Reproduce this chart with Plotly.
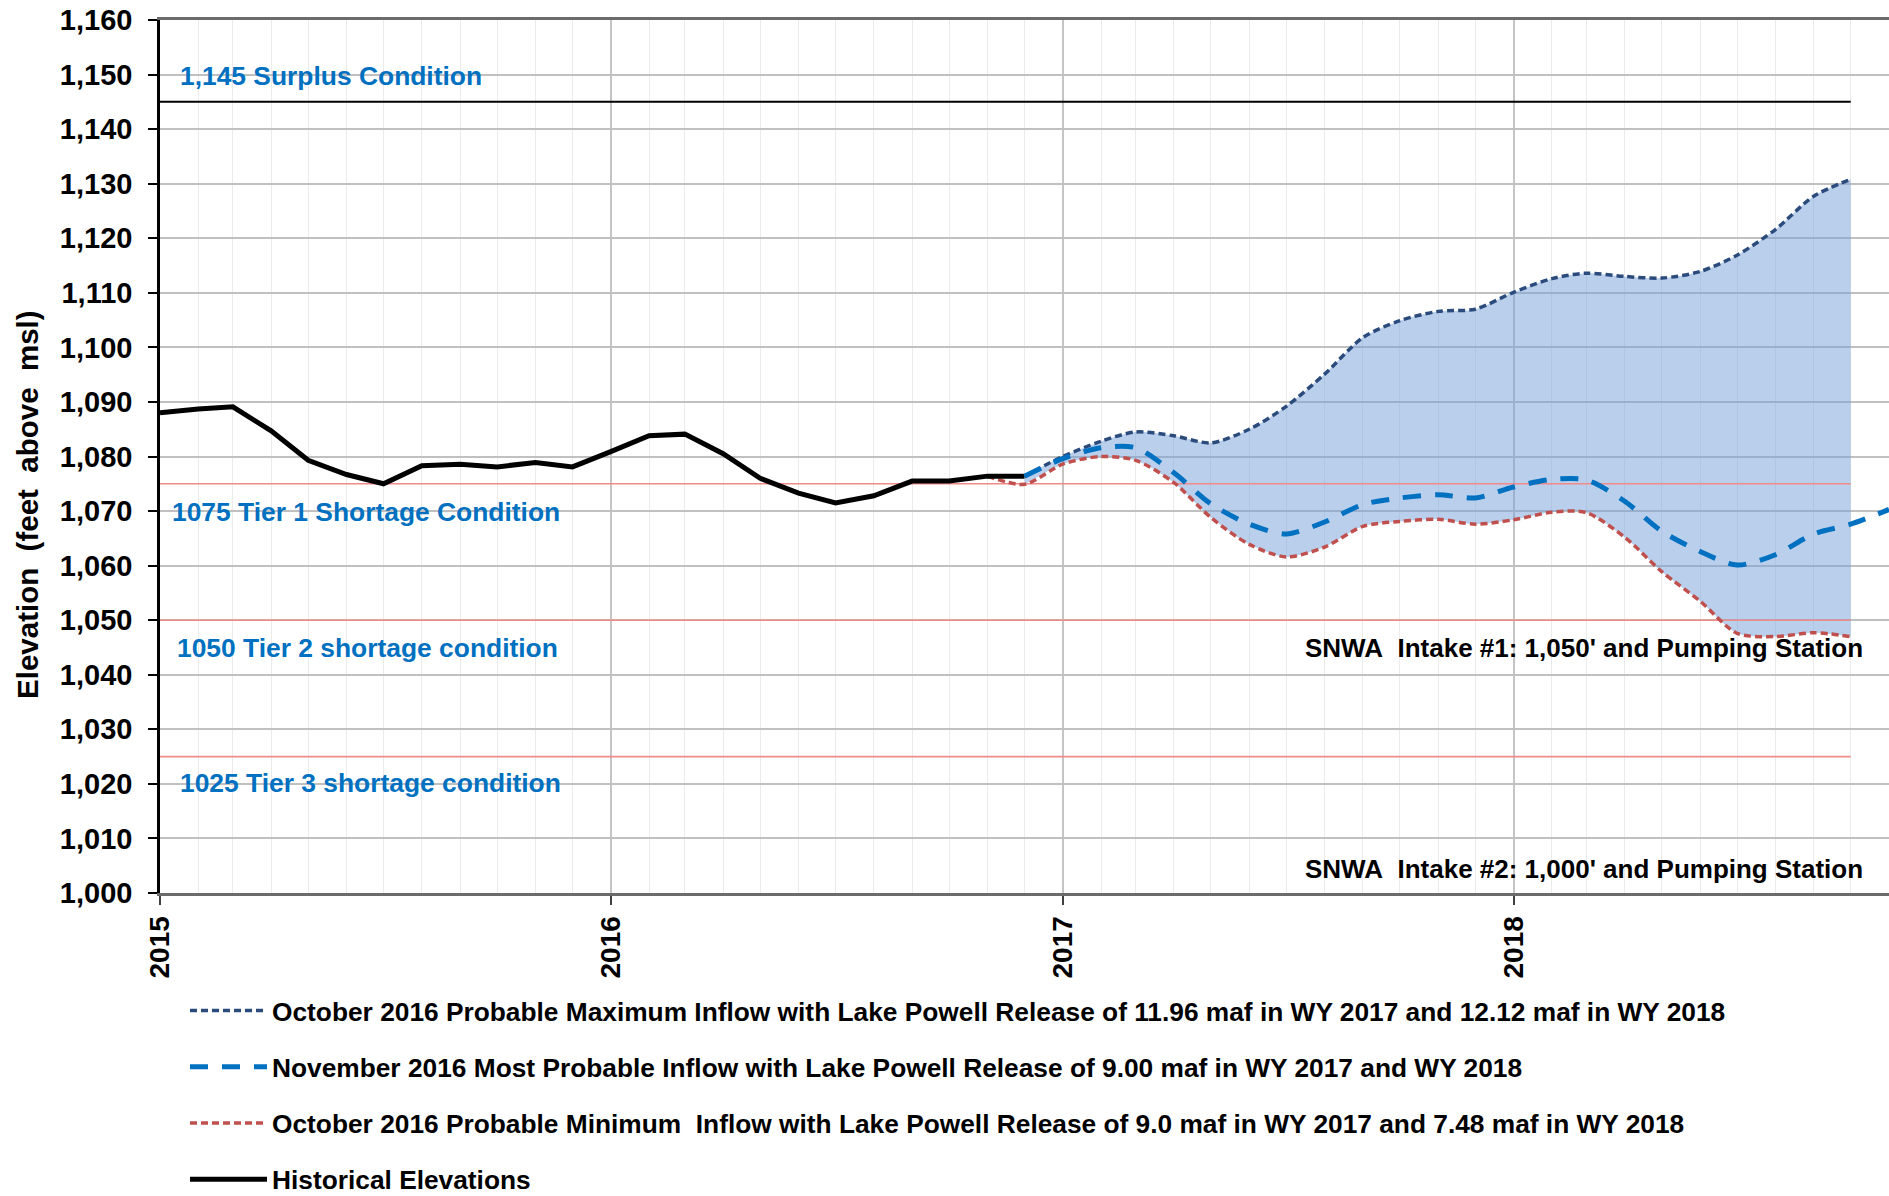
import pandas as pd
import plotly.graph_objects as go

# ---------------- data ----------------
first_month = "2015-01-01"
n_months = 47

historical = [1088.0, 1088.7, 1089.1, 1084.7, 1079.3, 1076.7, 1075.0, 1078.3,
              1078.6, 1078.1, 1078.9, 1078.1, 1080.9, 1083.8, 1084.1, 1080.5,
              1076.0, 1073.3, 1071.5, 1072.8, 1075.5, 1075.5, 1076.4, 1076.4]

max_inflow = [1076.4, 1080.0, 1082.8, 1084.5, 1083.8, 1082.5, 1085.0, 1089.2,
              1095.1, 1101.8, 1104.9, 1106.6, 1107.0, 1110.1, 1112.6, 1113.6,
              1113.0, 1112.7, 1113.9, 1116.9, 1121.6, 1127.7, 1130.8]

most_probable = [1076.4, 1079.6, 1081.6, 1081.6, 1077.0, 1071.3, 1067.6, 1065.8,
                 1068.0, 1071.2, 1072.4, 1073.0, 1072.4, 1074.4, 1075.8, 1075.7,
                 1071.8, 1066.3, 1062.6, 1060.1, 1062.0, 1065.8, 1067.6, 1070.3]

min_inflow = [1076.4, 1074.9, 1078.6, 1080.0, 1079.3, 1075.2, 1068.8, 1063.9,
              1061.6, 1063.4, 1067.2, 1068.1, 1068.5, 1067.6, 1068.4, 1069.8,
              1069.7, 1065.2, 1058.9, 1053.5, 1047.6, 1047.0, 1047.7, 1047.0]

threshold_values = [1145, 1075, 1050, 1025]
threshold_labels = ["1,145 Surplus Condition", "1075 Tier 1 Shortage Condition",
                    "1050 Tier 2 shortage condition", "1025 Tier 3 shortage condition"]
intake_labels = ["SNWA\u00a0 Intake #1: 1,050' and Pumping Station",
                 "SNWA\u00a0 Intake #2: 1,000' and Pumping Station"]
intake_values = [1044.9, 1004.4]

series_names = [
    "October 2016 Probable Maximum Inflow with Lake Powell Release of 11.96 maf in WY 2017 and 12.12 maf in WY 2018",
    "November 2016 Most Probable Inflow with Lake Powell Release of 9.00 maf in WY 2017 and WY 2018",
    "October 2016 Probable Minimum\u00a0 Inflow with Lake Powell Release of 9.0 maf in WY 2017 and 7.48 maf in WY 2018",
    "Historical Elevations",
]

y_ticks = list(range(1000, 1161, 10))
x_range = ["2015-01-01", "2018-11-01"]

# ---------------- derived x ----------------
months = pd.date_range(first_month, periods=n_months, freq="MS")
hist_x = months[0:len(historical)]
max_x = months[23:23 + len(max_inflow)]
mp_x = months[23:23 + len(most_probable)]
min_x = months[22:22 + len(min_inflow)]
ref_x = [months[0], months[45]]

FONT = "Liberation Sans, Arial, sans-serif"
C_MAX = "#2a4b7c"
C_MP = "#0070c0"
C_MIN = "#c0504d"
C_RED = "#f28a8a"

fig = go.Figure()

# shaded range between max and min
fig.add_trace(go.Scatter(x=max_x, y=max_inflow, mode="lines",
                         line=dict(width=0, shape="spline", smoothing=0.8),
                         showlegend=False, hoverinfo="skip"))
fig.add_trace(go.Scatter(x=min_x[1:], y=min_inflow[1:], mode="lines",
                         line=dict(width=0, shape="spline", smoothing=0.8),
                         fill="tonexty", fillcolor="rgba(116,160,218,0.5)",
                         showlegend=False, hoverinfo="skip"))

# threshold lines
for v in threshold_values:
    fig.add_trace(go.Scatter(x=ref_x, y=[v, v], mode="lines",
                             line=dict(color="#000000" if v == threshold_values[0] else C_RED,
                                       width=2 if v == threshold_values[0] else 1.6),
                             showlegend=False, hoverinfo="skip"))

# series
fig.add_trace(go.Scatter(x=max_x, y=max_inflow, mode="lines", name=series_names[0],
                         legendgroup="a", legendrank=1,
                         line=dict(color=C_MAX, width=3.5, dash="7px,4px",
                                   shape="spline", smoothing=0.8)))
fig.add_trace(go.Scatter(x=min_x, y=min_inflow, mode="lines", name=series_names[2],
                         legendgroup="c", legendrank=3,
                         line=dict(color=C_MIN, width=3.5, dash="7px,4px",
                                   shape="spline", smoothing=0.8)))
fig.add_trace(go.Scatter(x=hist_x, y=historical, mode="lines", name=series_names[3],
                         legendgroup="d", legendrank=4,
                         line=dict(color="#000000", width=5)))
fig.add_trace(go.Scatter(x=mp_x, y=most_probable, mode="lines", name=series_names[1],
                         legendgroup="b", legendrank=2,
                         line=dict(color=C_MP, width=5, dash="18px,14px",
                                   shape="spline", smoothing=0.8)))

# annotations
ann = []
label_x = [0.0104, 0.0057, 0.0087, 0.0104]
label_y = [1149.8, 1069.8, 1044.9, 1020.1]
for t, xx, yy in zip(threshold_labels, label_x, label_y):
    ann.append(dict(text="<b>" + t + "</b>", x=xx, xref="paper", y=yy, yref="y",
                    xanchor="left", yanchor="middle", showarrow=False,
                    font=dict(family=FONT, size=26.4, color=C_MP)))
for t, yy in zip(intake_labels, intake_values):
    ann.append(dict(text="<b>" + t + "</b>", x=0.9862, xref="paper", y=yy, yref="y",
                    xanchor="right", yanchor="middle", showarrow=False,
                    font=dict(family=FONT, size=26.0, color="#000000")))
ann.append(dict(text="<b>Elevation\u00a0 (feet\u00a0 above\u00a0 msl)</b>", textangle=-90,
                x=(28 - 160) / 1729, xref="paper", y=(892.7 - 505) / 872.2, yref="paper",
                xanchor="center", yanchor="middle", showarrow=False,
                font=dict(family=FONT, size=29.5, color="#000000")))

fig.update_layout(
    width=1889, height=1196,
    margin=dict(l=160, r=0, t=20, b=303, autoexpand=False),
    paper_bgcolor="white", plot_bgcolor="white",
    font=dict(family=FONT, color="#000000"),
    annotations=ann,
    showlegend=True,
    legend=dict(xref="container", yref="container", x=185 / 1889, y=1 - 987 / 1196,
                xanchor="left", yanchor="top", traceorder="grouped",
                tracegroupgap=19, itemwidth=77,
                font=dict(family=FONT, size=26.3, color="#000000", weight="bold"),
                bgcolor="rgba(0,0,0,0)"),
    xaxis=dict(type="date", range=x_range, dtick="M12", tick0="2015-01-01",
               tickformat="%Y", tickangle=-90, ticks="outside", ticklen=9,
               tickcolor="#404040", tickwidth=1.5, ticklabelstandoff=0,
               tickfont=dict(family=FONT, size=28, color="#000000", weight="bold"),
               showgrid=True, gridcolor="#c4c4c4", gridwidth=1.5,
               minor=dict(dtick="M1", tick0="2015-01-01", showgrid=True,
                          gridcolor="#ebebeb", gridwidth=1, ticks=""),
               showline=True, linecolor="#6b6b6b", linewidth=3, mirror=True,
               zeroline=False, automargin=False),
    yaxis=dict(range=[1000, 1160], tickvals=y_ticks, tickformat=",d",
               ticks="outside", ticklen=9, tickcolor="#000000", tickwidth=1.5,
               ticklabelstandoff=10,
               tickfont=dict(family=FONT, size=29, color="#000000", weight="bold"),
               showgrid=True, gridcolor="#c0c0c0", gridwidth=2,
               showline=True, linecolor="#000000", linewidth=2.5,
               zeroline=False, automargin=False),
)

fig.write_html("out.html", config={"displayModeBar": False},
               post_script="document.body.style.margin='0';document.body.style.overflow='hidden';")
